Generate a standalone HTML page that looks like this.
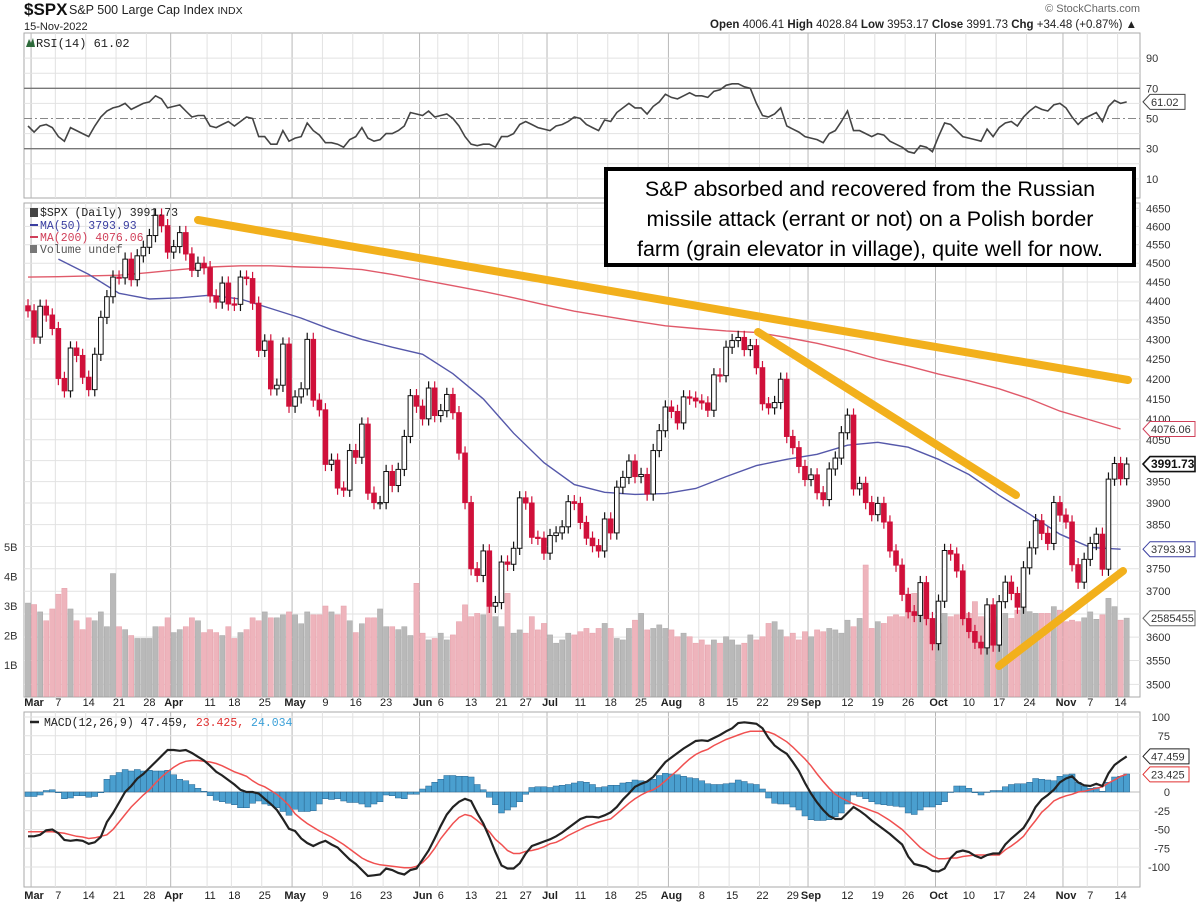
<!DOCTYPE html>
<html><head><meta charset="utf-8"><title>$SPX chart</title>
<style>
html,body{margin:0;padding:0;background:#fff;}
svg{display:block;font-family:"Liberation Sans",Arial,sans-serif;}
</style></head>
<body>
<svg id="chart" width="1200" height="906" viewBox="0 0 1200 906" xmlns="http://www.w3.org/2000/svg">
  <rect x="0" y="0" width="1200" height="906" fill="#fff"/>
  <g>
    <text x="24" y="15" font-size="17" font-weight="bold" fill="#111">$SPX</text>
    <text x="69" y="14" font-size="12.5" fill="#222">S&amp;P 500 Large Cap Index <tspan font-size="10.5">INDX</tspan></text>
    <text x="24" y="30" font-size="11" fill="#222">15-Nov-2022</text>
    <text x="1140" y="12" font-size="11" fill="#666" text-anchor="end">© StockCharts.com</text>
    <text x="1137" y="28" font-size="11.5" fill="#222" text-anchor="end"><tspan font-weight="bold">Open</tspan> 4006.41  <tspan font-weight="bold">High</tspan> 4028.84  <tspan font-weight="bold">Low</tspan> 3953.17  <tspan font-weight="bold">Close</tspan> 3991.73  <tspan font-weight="bold">Chg</tspan> +34.48 (+0.87%) ▲</text>
  </g>
  <g id="grid"></g>
  <g id="rsi"></g>
  <g id="main"></g>
  <g id="macd"></g>
  <g id="axes"></g>
  <g stroke="#f2b01c" stroke-width="8" stroke-linecap="round">
    <line x1="198" y1="220" x2="1128" y2="380"/>
    <line x1="758" y1="332" x2="1016" y2="495"/>
    <line x1="999" y1="666" x2="1123" y2="571"/>
  </g>
  <g>
    <rect x="606" y="169" width="528" height="96" fill="#fff" stroke="#000" stroke-width="4"/>
    <text x="870" y="196" font-size="21.5" text-anchor="middle" fill="#000">S&amp;P absorbed and recovered from the Russian</text>
    <text x="870" y="226" font-size="21.5" text-anchor="middle" fill="#000">missile attack (errant or not) on a Polish border</text>
    <text x="870" y="256" font-size="21.5" text-anchor="middle" fill="#000">farm (grain elevator in village), quite well for now.</text>
  </g>
</svg>
<script>
// ---- data ----
const closes=[4373.94,4306,4386,4363,4328,4201,4170,4278,4259,4204,4173,4262,4357,4411,4463,4461,4511,4456,4520,4543,4575,4631,4602,4530,
4545,4583,4525,4481,4500,4488,4413,4397,4447,4392,4391,4463,4459,4394,4272,4296,4175,4184,4288,4132,
4155,4175,4300,4147,4123,3991,4001,3935,3930,4024,4008,4088,3923,3901,3901,3974,3941,3979,4058,4158,4132,
4101,4177,4109,4121,4161,4116,4018,3901,3750,3735,3790,3667,3675,3765,3760,3796,3912,3900,3821,3819,3785,
3825,3831,3845,3903,3899,3855,3819,3802,3790,3863,3831,3937,3960,3999,3962,3967,3921,4024,4072,4130,
4119,4091,4155,4152,4145,4140,4122,4210,4208,4280,4297,4305,4274,4284,4228,4138,4128,4141,4199,4058,4031,3986,3955,
3966,3924,3908,3980,4006,4067,4110,3933,3946,3901,3873,3899,3856,3790,3758,3693,3655,3647,3719,3640,3586,
3678,3791,3783,3745,3640,3612,3589,3577,3670,3583,3677,3720,3695,3665,3752,3797,3859,3830,3807,3901,3872,
3856,3759,3720,3771,3807,3828,3749,3956,3993,3957,3991.73];
const volumes=[3.1,3.05,2.8,2.5,2.9,3.4,3.6,2.9,2.5,2.2,2.6,2.5,2.8,2.3,4.1,2.3,2.2,2.0,1.9,1.9,1.9,2.3,2.3,2.6,2.1,2.2,2.3,2.6,2.5,2.1,2.2,2.1,2.0,2.3,1.9,2.1,2.2,2.6,2.5,2.8,2.6,2.6,2.7,2.8,2.7,2.4,2.8,2.7,2.7,3.0,2.8,2.7,3.0,2.5,2.1,2.4,2.6,2.6,2.9,2.3,2.3,2.2,2.3,2.0,
3.77,2.08,1.85,1.9,2.08,1.85,2.02,2.47,3.04,2.64,2.75,2.7,4.67,2.64,2.3,3.43,2.08,2.19,2.08,2.64,2.19,2.41,2.02,1.74,1.85,2.08,2.02,2.13,2.24,2.08,2.24,2.41,2.24,1.9,1.85,2.24,2.52,2.75,2.19,2.24,2.36,2.24,2.19,1.96,2.08,1.96,1.74,1.85,1.68,1.85,1.74,1.96,1.85,1.68,1.74,2.02,1.85,1.96,2.41,2.47,2.19,
1.96,2.08,1.85,2.13,1.96,2.19,2.13,2.24,2.19,2.08,2.52,2.3,2.58,4.39,2.24,2.47,2.41,2.64,2.7,2.64,2.81,3.43,3.2,2.86,2.41,2.41,2.75,2.64,2.7,2.58,2.75,3.15,2.64,2.58,2.41,2.64,2.75,2.58,2.86,2.98,2.81,2.75,2.75,2.75,2.98,2.86,2.47,2.52,2.47,2.6,2.8,2.55,2.7,3.26,2.98,2.52,2.59];
const ma50=[null,4511,4470,4420,4405,4408,4415,4405,4380,4355,4325,4300,4280,4262,4213,4150,4066,3995,3943,3925,3920,3922,3934,3962,3988,4003,4015,4037,4044,4032,4003,3967,3918,3874,3828,3798,3794];
const ma200=[4463,4464,4466,4468,4475,4483,4490,4493,4493,4490,4488,4483,4470,4455,4440,4425,4408,4390,4373,4360,4347,4335,4328,4322,4318,4305,4290,4272,4250,4232,4212,4195,4175,4150,4120,4098,4076];
const rsi=[45,41,45,46,44,38,35,44,42,40,38,45,51,55,57,58,60,56,58,60,61,65,63,57,58,59,55,51,52,52,45,44,46,48,45,48,51,50,38,38,33,33,42,35,37,38,47,42,39,34,34,33,31,36,38,44,37,35,36,40,40,42,45,54,53,52,55,51,52,53,50,45,38,33,32,33,33,31,38,38,40,46,48,46,44,43,42,45,46,48,51,50,46,44,42,49,48,54,57,60,57,57,53,58,61,66,64,63,65,67,65,65,64,68,69,72,73,73,71,70,60,52,51,53,57,45,43,41,38,37,36,34,40,42,48,55,42,42,40,38,40,39,35,33,31,28,27,32,31,28,38,47,46,42,38,37,36,35,43,38,44,47,48,45,51,55,58,56,55,59,60,57,51,46,50,52,54,48,58,62,60,61];
const macdLine=[-59,-59,-57,-51,-50,-55,-64,-65,-64,-65,-69,-67,-60,-40,-28,-14,0,8,18,24,32,40,48,56,56,55,56,52,47,42,35,27,22,16,10,3,0,0,-2,-9,-16,-24,-36,-49,-52,-62,-68,-72,-68,-65,-70,-74,-82,-90,-96,-104,-112,-111,-110,-102,-104,-108,-110,-104,-102,-90,-78,-62,-45,-30,-20,-13,-9,-12,-28,-42,-60,-80,-98,-102,-102,-95,-82,-72,-69,-66,-63,-59,-54,-48,-42,-36,-33,-33,-34,-31,-27,-20,-10,-2,7,11,14,20,30,40,46,52,58,63,68,69,68,72,76,81,85,92,93,92,91,85,72,62,56,51,40,28,12,-2,-14,-24,-32,-36,-36,-28,-20,-25,-31,-38,-44,-50,-56,-63,-70,-86,-96,-98,-100,-105,-106,-102,-88,-80,-78,-80,-85,-88,-84,-82,-82,-70,-62,-55,-48,-35,-20,-10,-4,3,13,18,21,13,9,8,11,8,25,36,42,47.459];
const signalLine=[-53,-53,-53,-53,-53,-54,-55,-57,-59,-60,-62,-61,-59,-57,-50,-40,-30,-20,-12,-4,3,12,20,27,33,38,41,42,42,41,40,38,35,31,27,24,21,15,10,7,2,-3,-10,-18,-29,-36,-42,-47,-52,-56,-60,-65,-70,-76,-82,-88,-92,-95,-97,-98,-99,-100,-101,-101,-99,-94,-86,-75,-62,-52,-42,-34,-30,-32,-38,-45,-53,-63,-70,-78,-82,-82,-79,-78,-76,-73,-69,-67,-63,-58,-54,-50,-46,-43,-40,-38,-36,-29,-22,-15,-9,-4,0,3,8,15,22,29,37,44,50,54,57,62,66,70,73,76,79,81,81,81,80,77,72,67,60,52,44,35,24,14,5,-3,-8,-12,-16,-19,-22,-25,-28,-33,-38,-44,-50,-58,-66,-74,-80,-85,-89,-89,-88,-88,-86,-85,-84,-84,-84,-84,-84,-77,-72,-66,-59,-48,-38,-27,-20,-12,-8,-5,-3,0,1,3,5,7,12,16,21,23.425];
const priceTicks=[4650,4600,4550,4500,4450,4400,4350,4300,4250,4200,4150,4100,4050,4000,3950,3900,3850,3800,3750,3700,3650,3600,3550,3500];
const priceTickLabels=["4650","4600","4550","4500","4450","4400","4350","4300","4250","4200","4150","4100","4050","","3950","3900","3850","","3750","3700","","3600","3550","3500"];
const volTicks=[5,4,3,2,1];
const rsiTicks=[90,70,50,30,10];
const macdTicks=[100,75,50,25,0,-25,-50,-75,-100];
const xLabelIdx=[1,5,10,15,20,24,30,34,39,44,49,54,59,65,68,73,78,82,86,91,96,101,106,111,116,121,126,129,135,140,145,150,155,160,165,171,175,180];
const xLabelTxt=["Mar","7","14","21","28","Apr","11","18","25","May","9","16","23","Jun","6","13","21","27","Jul","11","18","25","Aug","8","15","22","29","Sep","12","19","26","Oct","10","17","24","Nov","7","14"];
const monthLabels=["Mar","Apr","May","Jun","Jul","Aug","Sep","Oct","Nov"];

// ---- scales ----
const NS="http://www.w3.org/2000/svg";
const L=24,R=1140;
function X(i){return 28+i*6.07;}
function yP(p){return 208.3+(Math.log(4650)-Math.log(p))*1675.5;}
function yV(v){return 694.5-v*29.5;}
function yR(r){return 118.5-(r-50)*1.51;}
function yM(m){return 792-m*0.75;}
function el(parent,tag,attrs,text){const e=document.createElementNS(NS,tag);for(const k in attrs)e.setAttribute(k,attrs[k]);if(text!==undefined)e.textContent=text;parent.appendChild(e);return e;}
const G=document.getElementById('grid'),RS=document.getElementById('rsi'),M=document.getElementById('main'),MC=document.getElementById('macd'),AX=document.getElementById('axes');

// panels
const panels=[[33,198],[203,697],[712,887]];
panels.forEach(function(p){
  const r=el(G,'rect',{x:L,y:p[0],width:R-L,height:p[1]-p[0],fill:'#fff',stroke:'#aaa','stroke-width':1});
  
  
});
// vertical grid
xLabelIdx.forEach(function(idx,k){
  const isM=monthLabels.indexOf(xLabelTxt[k])>=0;
  panels.forEach(function(p){
    const l=el(G,'line',{x1:X(idx)-3,x2:X(idx)-3,y1:p[0],y2:p[1],stroke:isM?'#b8b8b8':'#e2e2e2','stroke-width':1});
    
    
  });
  [706,899].forEach(function(yy){
    const t=el(AX,'text',{x:X(idx),y:yy,'font-size':11,'text-anchor':'middle',fill:'#222','font-weight':isM?'bold':'normal'},xLabelTxt[k]);
    
    
  });
});
// price grid & labels
priceTicks.forEach(function(p,k){
  const l=el(G,'line',{x1:L,x2:R,y1:yP(p),y2:yP(p),stroke:'#e2e2e2','stroke-width':1});
  
  
  const t=el(AX,'text',{x:1146,y:yP(p)+4,'font-size':11,fill:'#333'},priceTickLabels[k]);
  
  
});
volTicks.forEach(function(v){
  const t=el(AX,'text',{x:4,y:yV(v)+4,'font-size':11,fill:'#333'},v+'B');
  
  
});
// RSI grid
[90,80,70,60,50,40,30,20,10].forEach(function(r){
  const strong=(r===70||r===30);
  const l=el(G,'line',{x1:L,x2:R,y1:yR(r),y2:yR(r),stroke:strong?'#777':(r===50?'#888':'#e2e2e2'),'stroke-width':strong?1.3:1,'stroke-dasharray':r===50?'8,3,2,3':'none'});
  
  
});
rsiTicks.forEach(function(r){
  const t=el(AX,'text',{x:1146,y:yR(r)+4,'font-size':11,fill:'#333'},String(r));
  
  
});
// MACD grid
macdTicks.forEach(function(m){
  const l=el(G,'line',{x1:L,x2:R,y1:yM(m),y2:yM(m),stroke:m===0?'#bbb':'#e2e2e2','stroke-width':1});
  
  
  const t=el(AX,'text',{x:1170,y:yM(m)+4,'font-size':11,fill:'#333','text-anchor':'end'},String(m));
  
  
});

// RSI line
let rp='';
rsi.forEach(function(v,i){rp+=(i?'L':'M')+X(i).toFixed(1)+','+yR(v).toFixed(1);});
const rl=el(RS,'path',{d:rp,fill:'none',stroke:'#444','stroke-width':1.6});


const rt=el(RS,'text',{x:36,y:47,'font-size':12,fill:'#222','font-family':'Liberation Mono, monospace'},'RSI(14) 61.02');


el(RS,'path',{d:'M26,47 L29,39 L31,43 L33,38 L35,47 Z',fill:'#2d6a3a'});

// volume bars
volumes.forEach(function(v,i){
  const down=i>0&&closes[i]<closes[i-1];
  const b=el(M,'rect',{x:X(i)-2.6,y:yV(v),width:5.2,height:694.5-yV(v)+2,fill:down?'#eeb4bc':'#b9b9b9',stroke:down?'#e6a0aa':'#a8a8a8','stroke-width':0.5});
  
  
});
// MAs
function maPath(arr){let d='',st=false;arr.forEach(function(v,k){if(v===null)return;d+=(st?'L':'M')+X(k*5).toFixed(1)+','+yP(v).toFixed(1);st=true;});return d;}
const m200=el(M,'path',{d:maPath(ma200),fill:'none',stroke:'#e05a6a','stroke-width':1.4});


const m50=el(M,'path',{d:maPath(ma50),fill:'none',stroke:'#5558aa','stroke-width':1.4});


// candles
closes.forEach(function(c,i){
  const o=i>0?closes[i-1]:c*1.003;
  const hi=Math.max(o,c)*1.004,lo=Math.min(o,c)*0.996;
  const down=c<o;
  const col=down?'#d0103a':'#111';
  const w=el(M,'line',{x1:X(i),x2:X(i),y1:yP(hi),y2:yP(lo),stroke:col,'stroke-width':1.2});
  
  
  const top=yP(Math.max(o,c)),bot=yP(Math.min(o,c));
  const b=el(M,'rect',{x:X(i)-2.3,y:top,width:4.6,height:Math.max(1.2,bot-top),fill:down?'#d0103a':'#fff',stroke:col,'stroke-width':1});
  
  
});
// legend
const lg=[['$SPX (Daily) 3991.73','#222',216],['MA(50) 3793.93','#3a3ea0',229],['MA(200) 4076.06','#d0405a',241],['Volume undef','#555',253]];
lg.forEach(function(a,k){
  const t=el(M,'text',{x:k===0?40:40,y:a[2],'font-size':11.5,fill:a[1],'font-family':'Liberation Mono, monospace'},a[0]);
  
  
});
el(M,'line',{x1:30,x2:38,y1:225,y2:225,stroke:'#3a3ea0','stroke-width':2});
el(M,'line',{x1:30,x2:38,y1:237,y2:237,stroke:'#d0405a','stroke-width':2});
el(M,'rect',{x:30,y:245,width:7,height:8,fill:'#777'});
el(M,'rect',{x:30,y:208,width:8,height:9,fill:'#444'});

// MACD histogram
macdLine.forEach(function(m,i){
  const h=m-signalLine[i];
  const y0=yM(0),y1=yM(h);
  const b=el(MC,'rect',{x:X(i)-3,y:Math.min(y0,y1),width:6,height:Math.max(0.5,Math.abs(y1-y0)),fill:'#4a9fcf',stroke:'#2b6690','stroke-width':0.5});
  
  
});
function linePath(arr,f){let d='';arr.forEach(function(v,i){d+=(i?'L':'M')+X(i).toFixed(1)+','+f(v).toFixed(1);});return d;}
const sg=el(MC,'path',{d:linePath(signalLine,yM),fill:'none',stroke:'#f05050','stroke-width':1.5});


const ml=el(MC,'path',{d:linePath(macdLine,yM),fill:'none',stroke:'#222','stroke-width':2.2});


const mt=el(MC,'text',{x:44,y:726,'font-size':11.5,fill:'#222','font-family':'Liberation Mono, monospace'});


el(mt,'tspan',{},'MACD(12,26,9) 47.459, ');
el(mt,'tspan',{fill:'#e03030'},'23.425, ');
el(mt,'tspan',{fill:'#3aa0d8'},'24.034');
el(MC,'line',{x1:30,x2:39,y1:722,y2:722,stroke:'#222','stroke-width':2.5});

// value tags
function tag(y,txt,col,bold,w){
  const g=el(AX,'g',{});
  el(g,'polygon',{points:(1143)+','+y+' '+(1150)+','+(y-7.5)+' '+(1143+w)+','+(y-7.5)+' '+(1143+w)+','+(y+7.5)+' '+(1150)+','+(y+7.5),fill:'#fff',stroke:col,'stroke-width':bold?1.6:1});
  el(g,'text',{x:1151,y:y+4,'font-size':bold?12:11,'font-weight':bold?'bold':'normal',fill:bold?'#111':'#333'},txt);
  return g;
}
const t1=tag(yR(61.02),'61.02','#444',false,42);


const t2=tag(yP(4076.06),'4076.06','#d0405a',false,52);


const t3=tag(yP(3991.73),'3991.73','#111',true,52);


const t4=tag(yP(3793.93),'3793.93','#3a3ea0',false,52);


const t5=tag(yV(2.585),'2585455','#666',false,52);


const t6=tag(yM(47.459),'47.459','#222',false,46);


const t7=tag(yM(23.425),'23.425','#e03030',false,46);


</script>
</body></html>
